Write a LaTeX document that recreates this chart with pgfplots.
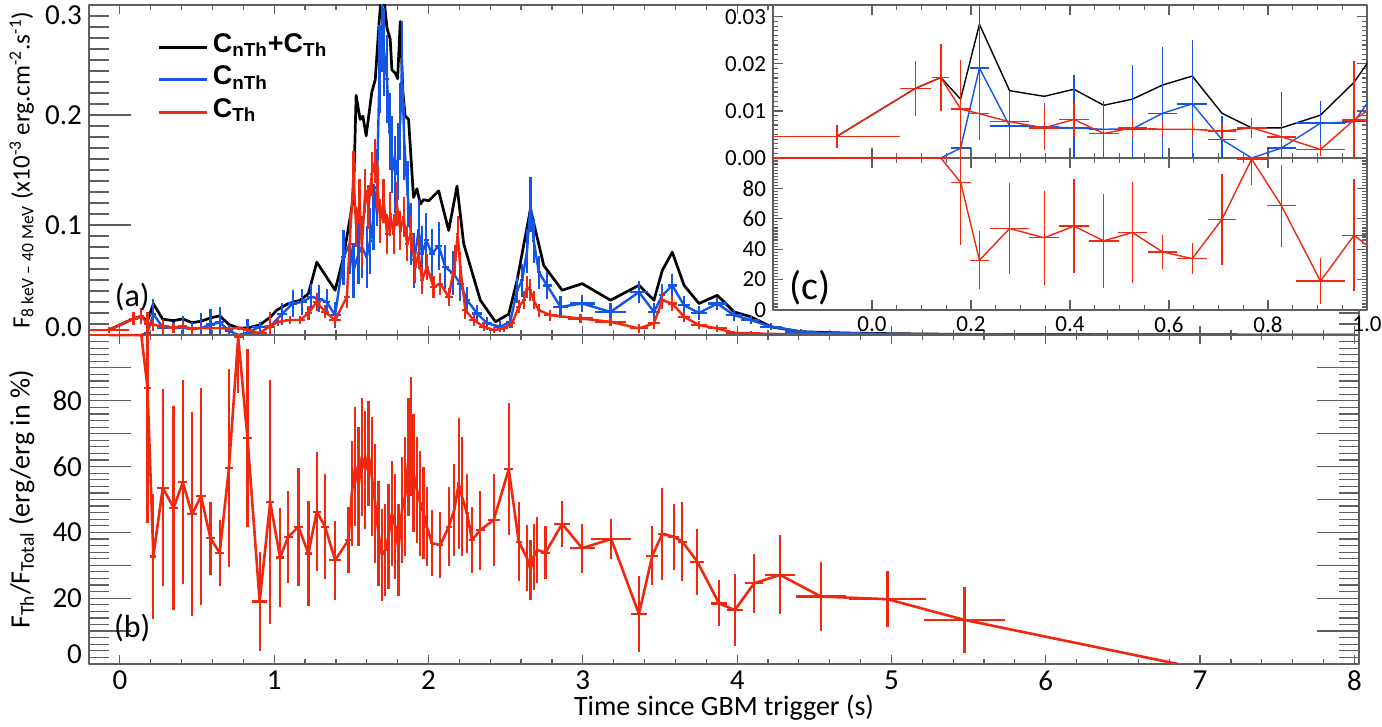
\documentclass[border=0pt]{standalone}
\usepackage{fontspec}
\setmainfont{Carlito}
\newfontfamily\legfont{Liberation Sans}
\usepackage{pgfplots}
\usepackage{pgfplotstable}
\pgfplotsset{compat=1.18}
\definecolor{cred}{RGB}{240,40,15}
\definecolor{cblue}{RGB}{20,85,230}
\definecolor{axgray}{RGB}{95,95,95}

% Thermal component C_Th
\pgfplotstableread{
x y ex ey
-0.071 0.0046 0.128 0.0024
0.088 0.0148 0.031 0.0058
0.139 0.0171 0.017 0.0071
0.179 0.0104 0.020 0.0104
0.217 0.0094 0.019 0.0055
0.278 0.0077 0.040 0.0060
0.348 0.0064 0.030 0.0047
0.408 0.0082 0.030 0.0038
0.468 0.0052 0.030 0.0040
0.526 0.0064 0.030 0.0022
0.587 0.0061 0.030 0.0016
0.647 0.0061 0.030 0.0016
0.707 0.0057 0.028 0.0018
0.767 0.0064 0.030 0.0022
0.827 0.0045 0.030 0.0018
0.906 0.0018 0.050 0.0014
0.974 0.0081 0.025 0.0125
1.027 0.0120 0.027 0.004
1.103 0.0136 0.030 0.004
1.168 0.0136 0.030 0.004
1.222 0.0200 0.025 0.006
1.276 0.0300 0.025 0.008
1.330 0.0210 0.025 0.006
1.395 0.0136 0.040 0.005
1.471 0.0346 0.020 0.010
1.514 0.1470 0.010 0.020
1.531 0.0980 0.008 0.018
1.553 0.1220 0.008 0.020
1.568 0.0800 0.008 0.018
1.590 0.1310 0.010 0.020
1.611 0.1160 0.010 0.020
1.633 0.1460 0.010 0.020
1.655 0.1580 0.010 0.020
1.670 0.1340 0.008 0.020
1.687 0.1040 0.008 0.020
1.709 0.1220 0.010 0.020
1.731 0.0920 0.010 0.018
1.752 0.1100 0.010 0.020
1.774 0.0920 0.010 0.018
1.795 0.1190 0.010 0.020
1.817 0.0950 0.010 0.018
1.839 0.1070 0.010 0.018
1.861 0.0830 0.010 0.016
1.886 0.0920 0.012 0.016
1.914 0.0617 0.012 0.014
1.936 0.0740 0.010 0.014
1.958 0.0497 0.010 0.012
1.990 0.0617 0.015 0.012
2.033 0.0436 0.020 0.010
2.077 0.0467 0.020 0.010
2.131 0.0346 0.025 0.008
2.174 0.0680 0.010 0.014
2.189 0.0920 0.008 0.016
2.206 0.0617 0.010 0.014
2.239 0.0226 0.020 0.008
2.293 0.0136 0.030 0.005
2.358 0.0075 0.030 0.004
2.423 0.0045 0.030 0.003
2.487 0.0060 0.030 0.003
2.542 0.0106 0.020 0.004
2.585 0.0256 0.015 0.006
2.617 0.0316 0.012 0.008
2.639 0.0436 0.008 0.010
2.660 0.0407 0.008 0.010
2.682 0.0316 0.008 0.008
2.715 0.0226 0.015 0.006
2.790 0.0180 0.040 0.005
2.985 0.0150 0.080 0.004
3.180 0.0120 0.100 0.004
3.364 0.0060 0.060 0.004
3.461 0.0106 0.040 0.005
3.515 0.0316 0.020 0.008
3.580 0.0286 0.030 0.007
3.656 0.0166 0.040 0.005
3.753 0.0090 0.050 0.004
3.872 0.0060 0.060 0.003
3.980 0.0020 0.050 0.002
4.088 0.0015 0.060 0.002
4.218 0.0010 0.070 0.001
4.543 0.0005 0.160 0.0005
4.975 0.0004 0.250 0.0003
5.473 0.0002 0.260 0.0002
6.857 0.0000 1.130 0.0
}\tabRed

% Non-thermal component C_nTh
\pgfplotstableread{
x y ex ey
-0.071 0.0 0.128 0.0
0.088 0.0 0.031 0.0
0.139 0.0 0.017 0.0
0.179 0.0021 0.020 0.0020
0.217 0.0191 0.019 0.0140
0.278 0.0068 0.040 0.0075
0.348 0.0066 0.030 0.0050
0.408 0.0064 0.030 0.0112
0.468 0.0061 0.030 0.0060
0.526 0.0062 0.030 0.0135
0.587 0.0095 0.030 0.0140
0.647 0.0115 0.030 0.0135
0.707 0.0039 0.028 0.0050
0.767 0.0000 0.030 0.0
0.827 0.0021 0.030 0.0120
0.906 0.0074 0.050 0.0047
0.974 0.0077 0.025 0.0050
1.050 0.0190 0.030 0.010
1.120 0.0286 0.030 0.012
1.180 0.0300 0.030 0.012
1.240 0.0346 0.025 0.012
1.290 0.0330 0.025 0.012
1.340 0.0300 0.025 0.012
1.395 0.0180 0.040 0.012
1.449 0.0707 0.015 0.025
1.490 0.0830 0.012 0.028
1.514 0.0587 0.010 0.025
1.547 0.0740 0.010 0.028
1.568 0.0800 0.008 0.028
1.600 0.0707 0.010 0.028
1.622 0.0858 0.010 0.030
1.644 0.1070 0.010 0.030
1.666 0.1340 0.010 0.035
1.683 0.2420 0.008 0.040
1.698 0.2790 0.008 0.040
1.713 0.2570 0.008 0.040
1.731 0.2330 0.010 0.040
1.748 0.1850 0.010 0.035
1.763 0.1640 0.010 0.035
1.785 0.1460 0.010 0.035
1.800 0.1580 0.008 0.035
1.817 0.1940 0.008 0.035
1.828 0.2450 0.008 0.040
1.843 0.1760 0.008 0.035
1.865 0.1280 0.010 0.030
1.886 0.0920 0.010 0.028
1.908 0.0680 0.012 0.025
1.936 0.0950 0.012 0.028
1.958 0.0740 0.012 0.025
1.986 0.0860 0.015 0.025
2.022 0.0740 0.020 0.022
2.066 0.0810 0.022 0.022
2.109 0.0617 0.022 0.020
2.160 0.0560 0.020 0.020
2.206 0.0467 0.022 0.016
2.250 0.0316 0.022 0.012
2.315 0.0196 0.030 0.008
2.380 0.0106 0.030 0.006
2.466 0.0075 0.040 0.005
2.530 0.0120 0.025 0.006
2.574 0.0407 0.015 0.012
2.607 0.0497 0.012 0.015
2.639 0.0768 0.008 0.020
2.661 0.1190 0.008 0.025
2.682 0.0858 0.008 0.020
2.715 0.0570 0.015 0.015
2.769 0.0450 0.030 0.012
2.855 0.0256 0.050 0.010
2.996 0.0286 0.080 0.008
3.180 0.0210 0.100 0.008
3.364 0.0390 0.060 0.010
3.461 0.0210 0.040 0.008
3.515 0.0360 0.020 0.010
3.580 0.0450 0.030 0.010
3.656 0.0270 0.040 0.008
3.753 0.0200 0.050 0.006
3.872 0.0286 0.060 0.006
3.980 0.0180 0.050 0.005
4.088 0.0136 0.060 0.004
4.218 0.0075 0.070 0.003
4.413 0.0030 0.100 0.002
4.543 0.0020 0.160 0.001
4.975 0.0010 0.250 0.0006
5.473 0.0004 0.260 0.0003
6.857 0.0002 1.130 0.0001
}\tabBlue

% Total C_nTh + C_Th
\pgfplotstableread{
x y
-0.071 0.0046
0.088 0.0148
0.139 0.0171
0.179 0.0125
0.217 0.0284
0.278 0.0143
0.348 0.0131
0.408 0.0146
0.468 0.0112
0.526 0.0125
0.587 0.0155
0.647 0.0174
0.707 0.0095
0.767 0.0064
0.827 0.0064
0.906 0.0091
0.974 0.0161
1.017 0.0226
1.092 0.0286
1.168 0.0316
1.222 0.0376
1.276 0.0662
1.395 0.0407
1.449 0.0707
1.514 0.1250
1.531 0.2180
1.557 0.1960
1.575 0.1990
1.596 0.1810
1.633 0.2210
1.655 0.2320
1.676 0.2760
1.691 0.3050
1.709 0.3100
1.731 0.2790
1.752 0.2690
1.763 0.2410
1.785 0.2380
1.800 0.2330
1.817 0.2850
1.834 0.2210
1.849 0.1990
1.871 0.1960
1.903 0.1250
1.925 0.1330
1.947 0.1190
1.968 0.1230
2.001 0.1220
2.066 0.1310
2.131 0.0950
2.185 0.1355
2.228 0.0830
2.336 0.0316
2.434 0.0120
2.520 0.0190
2.574 0.0497
2.661 0.1145
2.747 0.0632
2.866 0.0407
2.996 0.0467
3.180 0.0316
3.364 0.0452
3.461 0.0316
3.515 0.0587
3.580 0.0753
3.656 0.0452
3.753 0.0286
3.872 0.0361
3.980 0.0210
4.088 0.0166
4.218 0.0075
4.413 0.0030
4.700 0.0018
5.000 0.0012
5.470 0.0006
6.857 0.0002
8.000 0.0000
}\tabTot

% Ratio F_Th/F_Total in %
\pgfplotstableread{
x y ex ey
-0.071 100 0.128 0
0.088 100 0.031 0
0.139 100 0.017 0
0.179 84.0 0.020 41
0.217 32.7 0.019 19
0.278 53.6 0.040 30
0.348 47.5 0.030 31
0.408 55.2 0.030 31
0.468 45.5 0.030 31
0.526 51.0 0.030 33
0.587 38.2 0.030 11
0.647 33.8 0.030 10
0.707 59.6 0.028 30
0.767 99.3 0.030 17
0.827 68.7 0.030 27
0.906 19.0 0.050 15
0.974 49.2 0.025 37
1.038 32.4 0.027 15
1.092 38.7 0.027 14
1.157 41.7 0.030 18
1.222 33.6 0.025 16
1.276 46.3 0.025 18
1.330 41.7 0.025 16
1.395 31.6 0.040 12
1.482 37.7 0.020 10
1.503 51.9 0.008 16
1.525 60.0 0.008 18
1.547 53.9 0.008 18
1.568 63.0 0.008 18
1.590 59.0 0.008 18
1.611 64.0 0.008 16
1.633 57.0 0.008 18
1.655 48.8 0.008 18
1.676 39.7 0.008 16
1.698 33.1 0.008 14
1.720 34.7 0.008 14
1.741 38.7 0.008 16
1.763 45.8 0.008 16
1.785 41.7 0.008 16
1.806 34.7 0.008 14
1.828 46.8 0.008 16
1.849 50.9 0.008 18
1.871 63.0 0.008 18
1.886 69.1 0.008 18
1.903 58.0 0.008 18
1.925 52.9 0.008 16
1.947 48.8 0.008 16
1.968 45.8 0.008 14
1.990 41.7 0.010 12
2.022 36.7 0.015 10
2.077 36.2 0.020 10
2.131 41.7 0.020 12
2.167 46.8 0.008 14
2.196 54.9 0.008 20
2.217 50.9 0.008 18
2.250 45.8 0.015 12
2.282 37.7 0.020 10
2.336 40.7 0.030 12
2.423 43.8 0.040 14
2.520 59.2 0.030 20
2.585 37.2 0.020 12
2.639 32.1 0.008 10
2.661 28.6 0.008 9
2.682 32.6 0.008 10
2.704 34.7 0.010 10
2.758 33.8 0.030 8
2.866 42.6 0.050 7
2.996 35.2 0.080 7.5
3.184 38.0 0.130 6
3.364 15.2 0.050 11.6
3.450 32.9 0.040 9
3.515 39.5 0.030 14
3.590 38.7 0.035 10
3.645 37.2 0.030 12
3.742 31.1 0.045 10
3.883 18.4 0.050 7
3.985 16.4 0.050 11
4.110 24.5 0.060 9
4.278 27.1 0.100 12
4.543 20.5 0.160 10.6
4.975 19.7 0.250 8.6
5.473 13.4 0.260 10
6.857 0.0 1.130 0
}\tabRatio

\newcommand{\tl}[2]{\raisebox{#1}[0pt][0pt]{#2}}

\pgfplotsset{
  rootax/.style={scale only axis, tick align=inside,
    scaled x ticks=false, scaled y ticks=false,
    axis line style={axgray, line width=0.8pt},
    tick style={axgray, line width=0.6pt},
    ticklabel style={font=\fontsize{14.5}{16}\selectfont}},
  xlayer/.style={scale only axis, tick align=inside,
    scaled x ticks=false, scaled y ticks=false,
    axis line style={draw=none},
    tick style={axgray, line width=0.6pt},
    ticklabel style={font=\fontsize{14.5}{16}\selectfont},
    ytick=\empty, major tick length=4.5pt, minor tick length=2.5pt,
    xtick={0,1,2,3,4,5,6,7,8}, minor x tick num=4,
    xmin=-0.2, xmax=8.03},
  errs/.style={/pgfplots/error bars/x dir=both, /pgfplots/error bars/x explicit,
    /pgfplots/error bars/y dir=both, /pgfplots/error bars/y explicit,
    /pgfplots/error bars/error mark=none,
    /pgfplots/error bars/error bar style={line width=#1}},
}

\begin{document}
\begin{tikzpicture}
\useasboundingbox (-44.5pt,-196pt) rectangle (646.5pt,167.5pt);

% ---------- (a) top panel ----------
\begin{axis}[rootax, name=top, at={(0,0)}, anchor=south west,
  width=635pt, height=165pt,
  xmin=-0.2, xmax=8.03, ymin=0, ymax=0.3,
  xtick=\empty,
  ytick={0,0.1,0.2,0.3},
  yticklabels={\tl{-0.6pt}{0.0},0.1,0.2,\tl{-9.6pt}{0.3}},
  minor y tick num=9,
  major tick length=21pt, minor tick length=10pt,
  ylabel={F\textsubscript{8 keV -- 40 MeV} (x10\textsuperscript{-3} erg.cm\textsuperscript{-2}.s\textsuperscript{-1})},
  ylabel style={at={(axis description cs:-0.053,0.5)}, anchor=center, font=\fontsize{12.5}{14}\selectfont},
  legend style={at={(rel axis cs:0.0535,0.915)}, anchor=north west, draw=none, fill=none,
    inner sep=0pt, row sep=2.5pt,
    nodes={inner sep=0pt, text height=9.5pt, text depth=4.25pt},
    font=\legfont\bfseries\fontsize{13.5}{15}\selectfont},
  legend cell align=left,
  legend image code/.code={\draw[#1] (0pt,0pt) -- (24pt,0pt);},
  line join=round,
]
\addlegendimage{black, line width=1.5pt}
\addlegendimage{cblue, line width=1.5pt}
\addlegendimage{cred, line width=1.5pt}
\legend{\,C\textsubscript{nTh}+C\textsubscript{Th}, \,C\textsubscript{nTh}, \,C\textsubscript{Th}}
\addplot[black, line width=1.35pt, forget plot] table[x=x,y=y] \tabTot;
\addplot[cblue, line width=1.2pt, forget plot, errs=1.1pt] table[x=x,y=y,x error=ex,y error=ey] \tabBlue;
\addplot[cred, line width=1.2pt, forget plot, errs=1.1pt] table[x=x,y=y,x error=ex,y error=ey] \tabRed;
\node[font=\fontsize{16}{18}\selectfont] at (rel axis cs:0.034,0.115) {(a)};
\end{axis}
\begin{axis}[xlayer, at={(0,0)}, anchor=south west, width=635pt, height=165pt,
  ymin=0, ymax=0.3, xticklabels={}]
\end{axis}

% ---------- (b) bottom panel ----------
\begin{axis}[rootax, name=bot, at={(0,0)}, anchor=north west,
  width=635pt, height=164.5pt,
  xmin=-0.2, xmax=8.03, ymin=0, ymax=100,
  xtick=\empty,
  ytick={0,10,20,30,40,50,60,70,80,90,100},
  yticklabels={\tl{0.4pt}{0},,20,,40,,60,,80,,},
  minor y tick num=4,
  major tick length=21pt, minor tick length=10pt,
  xlabel={Time since GBM trigger (s)},
  xlabel style={at={(axis description cs:0.5,-0.133)}, anchor=center, font=\fontsize{14}{16}\selectfont},
  ylabel={F\textsubscript{Th}/F\textsubscript{Total} (erg/erg in \%)},
  ylabel style={at={(axis description cs:-0.053,0.5)}, anchor=center, font=\fontsize{14}{16}\selectfont},
  line join=round,
]
\addplot[cred, line width=1.3pt, errs=1.1pt] table[x=x,y=y,x error=ex,y error=ey] \tabRatio;
\node[font=\fontsize{16}{18}\selectfont] at (rel axis cs:0.034,0.109) {(b)};
\end{axis}
\begin{axis}[xlayer, at={(0,0)}, anchor=north west, width=635pt, height=164.5pt,
  ymin=0, ymax=100, xticklabels={0,1,2,3,4,5,6,7,8}]
\end{axis}

% ---------- (c) inset, upper part ----------
\begin{axis}[rootax, name=insTop, at={(342pt,88.5pt)}, anchor=south west,
  width=297pt, height=76.5pt,
  axis background/.style={fill=white},
  xmin=-0.2, xmax=1.0, ymin=0, ymax=0.0325,
  xtick={0,0.2,0.4,0.6,0.8,1.0}, xticklabels={},
  minor x tick num=3,
  ytick={0,0.01,0.02,0.03},
  yticklabels={0.00,0.01,0.02,0.03},
  minor y tick num=9,
  major tick length=5pt, minor tick length=2.5pt,
  ticklabel style={font=\fontsize{11.5}{13}\selectfont},
  line join=round,
]
\addplot[black, line width=0.7pt] table[x=x,y=y] \tabTot;
\addplot[cblue, line width=0.7pt, errs=0.7pt] table[x=x,y=y,x error=ex,y error=ey] \tabBlue;
\addplot[cred, line width=0.7pt, errs=0.7pt] table[x=x,y=y,x error=ex,y error=ey] \tabRed;
\end{axis}

% ---------- (c) inset, lower part ----------
\begin{axis}[rootax, name=insBot, at={(342pt,88.5pt)}, anchor=north west,
  width=297pt, height=76pt,
  axis background/.style={fill=white},
  xmin=-0.2, xmax=1.0, ymin=0, ymax=100,
  xtick={0,0.2,0.4,0.6,0.8,1.0}, xticklabels={0.0,0.2,0.4,0.6,0.8,1.0},
  minor x tick num=3,
  ytick={0,20,40,60,80,100},
  yticklabels={0,20,40,60,80,},
  minor y tick num=9,
  major tick length=5pt, minor tick length=2.5pt,
  ticklabel style={font=\fontsize{11.5}{13}\selectfont},
  line join=round,
]
\addplot[cred, line width=0.7pt, errs=0.7pt] table[x=x,y=y,x error=ex,y error=ey] \tabRatio;
\node[font=\fontsize{20}{22}\selectfont] at (rel axis cs:0.062,0.15) {(c)};
\end{axis}
\end{tikzpicture}
\end{document}
